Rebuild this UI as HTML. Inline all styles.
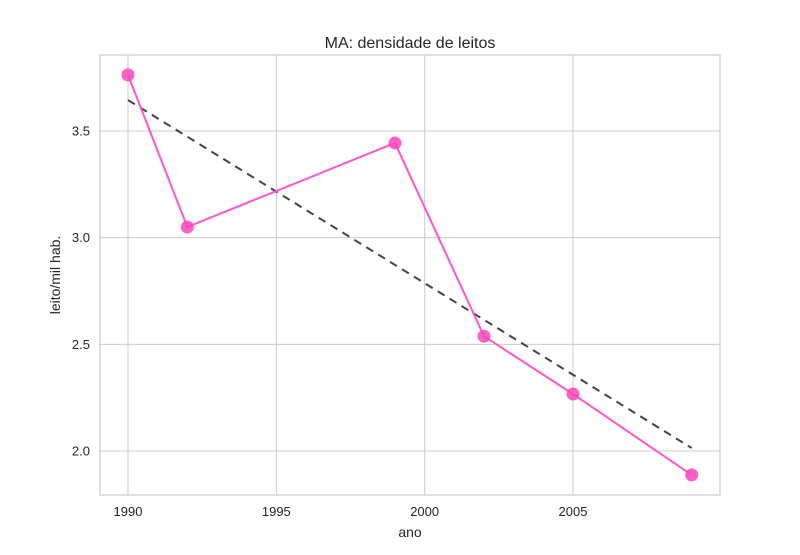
<!DOCTYPE html>
<html><head><meta charset="utf-8"><style>
body{margin:0;background:#fff}
svg text{font-family:"Liberation Sans","DejaVu Sans",sans-serif;fill:#262626}
</style></head><body>
<svg id="c" width="800" height="550" xmlns="http://www.w3.org/2000/svg"></svg>
<script>
const years=[1990,1992,1999,2002,2005,2009];
const values=[3.763,3.05,3.444,2.538,2.267,1.888];
const trendYears=[1990,2009];
const trendValues=[3.645,2.014];
const xTicks=[1990,1995,2000,2005];
const yTicks=[2.0,2.5,3.0,3.5];
const L=100,R=720,T=55,B=495;
const x=v=>128+(v-1990)*(445/15);
const y=v=>131+(3.5-v)*(320/1.5);
const svg=document.getElementById('c');
const NS='http://www.w3.org/2000/svg';
function mk(t,a,p){const e=document.createElementNS(NS,t);for(const k in a)e.setAttribute(k,a[k]);(p||svg).appendChild(e);return e;}
xTicks.forEach(t=>{const g=mk('line',{x1:x(t),x2:x(t),y1:T,y2:B,stroke:'#cccccc','stroke-width':1});


const tx=mk('text',{x:x(t),y:516,'text-anchor':'middle','font-size':13});tx.textContent=t;

});
yTicks.forEach(t=>{const g=mk('line',{x1:L,x2:R,y1:y(t),y2:y(t),stroke:'#cccccc','stroke-width':1});


const tx=mk('text',{x:90,y:y(t)+4.5,'text-anchor':'end','font-size':13});tx.textContent=t.toFixed(1);

});
const fr=mk('rect',{x:L,y:T,width:R-L,height:B-T,fill:'none',stroke:'#cccccc','stroke-width':1.2});


const tr=mk('line',{x1:x(trendYears[0]),y1:y(trendValues[0]),x2:x(trendYears[1]),y2:y(trendValues[1]),stroke:'#444444','stroke-width':2,'stroke-dasharray':'8,6'});


const pl=mk('polyline',{points:years.map((v,i)=>x(v)+','+y(values[i])).join(' '),fill:'none',stroke:'#ff55cc','stroke-width':2});


years.forEach((v,i)=>{const c=mk('circle',{cx:x(v),cy:y(values[i]),r:6.5,fill:'#ff44bb','fill-opacity':0.85});

});
const ti=mk('text',{x:410,y:48,'text-anchor':'middle','font-size':16});ti.textContent='MA: densidade de leitos';


const xl=mk('text',{x:410,y:537,'text-anchor':'middle','font-size':14});xl.textContent='ano';


const yl=mk('text',{x:60,y:275,'text-anchor':'middle','font-size':14,transform:'rotate(-90 60 275)'});yl.textContent='leito/mil hab.';


</script>
</body></html>
